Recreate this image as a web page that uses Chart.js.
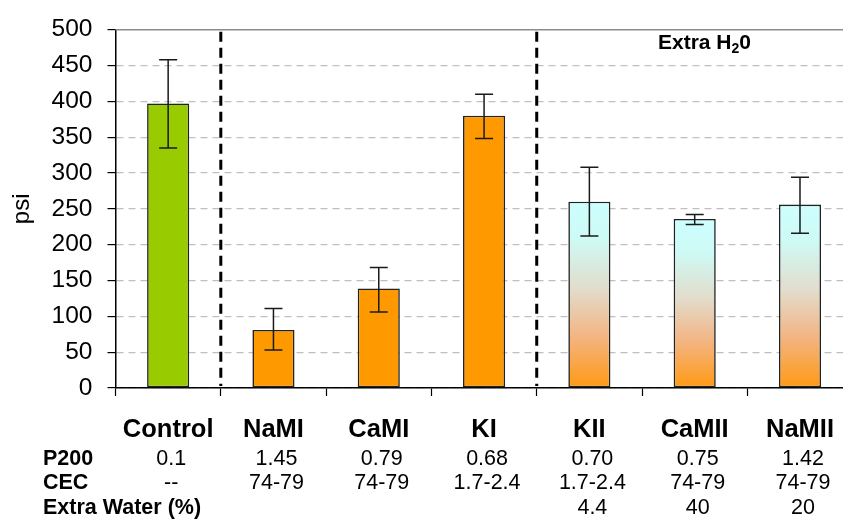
<!DOCTYPE html>
<html>
<head>
<meta charset="utf-8">
<script src="https://cdn.jsdelivr.net/npm/chart.js@4/dist/chart.umd.min.js"></script>
<style>
  html, body { margin: 0; padding: 0; background: #fff; overflow: hidden; }
  #wrap { width: 843px; height: 520px; overflow: hidden; }
</style>
</head>
<body>
<div id="wrap"><canvas id="chart" width="853" height="520"></canvas></div>
<script>
/* ────────────────────────────────────────────
   DATA
──────────────────────────────────────────── */
const categories = ['Control', 'NaMI', 'CaMI', 'KI', 'KII', 'CaMII', 'NaMII'];
const psiValues  = [397, 81, 139, 380, 260, 236, 256];
const errHigh    = [458, 111, 168, 410, 308, 242, 294];
const errLow     = [335, 53, 106, 348, 212, 228, 216];
const yTicks     = [0, 50, 100, 150, 200, 250, 300, 350, 400, 450, 500];

const rowLabels  = ['P200', 'CEC', 'Extra Water (%)'];
const p200       = ['0.1', '1.45', '0.79', '0.68', '0.70', '0.75', '1.42'];
const cec        = ['--', '74-79', '74-79', '1.7-2.4', '1.7-2.4', '74-79', '74-79'];
const extraWater = ['', '', '', '', '4.4', '40', '20'];

const dividers   = [0.5, 3.5];   // between Control|NaMI and KI|KII

const FONT = 'Arial, "Liberation Sans", sans-serif';

/* ────────────────────────────────────────────
   FILLS
──────────────────────────────────────────── */
function barFill(ctx) {
  const i = ctx.dataIndex;
  if (i === 0) return '#99CC00';
  if (i < 4) return '#FF9900';
  const chart = ctx.chart;
  if (!chart.chartArea || !chart.scales.y) return '#CCFFFF';
  const y = chart.scales.y;
  const top = y.getPixelForValue(psiValues[i]);
  const bottom = y.getPixelForValue(0);
  const g = chart.ctx.createLinearGradient(0, top, 0, bottom);
  g.addColorStop(0, '#CCFFFF');
  g.addColorStop(0.2, '#CEFAF5');
  g.addColorStop(0.47, '#E2DCCB');
  g.addColorStop(0.72, '#F3B584');
  g.addColorStop(1, '#FF9912');
  return g;
}

/* ────────────────────────────────────────────
   OVERLAYS: error bars, dividers, table
──────────────────────────────────────────── */
const overlay = {
  id: 'overlay',
  afterDatasetsDraw(chart) {
    const { ctx, chartArea } = chart;
    const x = chart.scales.x, y = chart.scales.y;
    ctx.save();

    // solid top line at 500
    ctx.strokeStyle = '#8C8C8C';
    ctx.lineWidth = 1.5;
    ctx.beginPath();
    ctx.moveTo(chartArea.left, y.getPixelForValue(500));
    ctx.lineTo(chartArea.right, y.getPixelForValue(500));
    ctx.stroke();

    // error bars
    ctx.strokeStyle = '#1a1a1a';
    ctx.lineWidth = 1.5;
    psiValues.forEach((v, i) => {
      const cx = x.getPixelForValue(i);
      const hi = y.getPixelForValue(errHigh[i]);
      const lo = y.getPixelForValue(errLow[i]);
      ctx.beginPath();
      ctx.moveTo(cx, hi); ctx.lineTo(cx, lo);
      ctx.moveTo(cx - 9, hi); ctx.lineTo(cx + 9, hi);
      ctx.moveTo(cx - 9, lo); ctx.lineTo(cx + 9, lo);
      ctx.stroke();
    });

    // dashed dividers
    ctx.strokeStyle = '#000';
    ctx.lineWidth = 3;
    ctx.setLineDash([10, 6]);
    dividers.forEach(d => {
      const px = (x.getPixelForValue(Math.floor(d)) + x.getPixelForValue(Math.ceil(d))) / 2;
      ctx.beginPath();
      ctx.moveTo(px, chartArea.top + 2);
      ctx.lineTo(px, chartArea.bottom - 2);
      ctx.stroke();
    });
    ctx.setLineDash([]);

    // "Extra H2O" label
    ctx.fillStyle = '#000';
    ctx.textBaseline = 'alphabetic';
    ctx.textAlign = 'left';
    let tx = 658, ty = 49;
    ctx.font = 'bold 21px ' + FONT;
    ctx.fillText('Extra H', tx, ty);
    tx += ctx.measureText('Extra H').width;
    ctx.font = 'bold 14px ' + FONT;
    ctx.fillText('2', tx, ty + 4);
    tx += ctx.measureText('2').width;
    ctx.font = 'bold 21px ' + FONT;
    ctx.fillText('0', tx, ty);

    // table rows under the axis
    const rows = [p200, cec, extraWater];
    const rowY = [459, 483, 508];
    ctx.textBaseline = 'middle';
    rows.forEach((row, r) => {
      ctx.textAlign = 'left';
      ctx.font = 'bold 21.5px ' + FONT;
      ctx.fillText(rowLabels[r], 43, rowY[r]);
      ctx.textAlign = 'center';
      ctx.font = '21.5px ' + FONT;
      row.forEach((txt, i) => {
        if (txt) ctx.fillText(txt, x.getPixelForValue(i) + 3, rowY[r]);
      });
    });

    ctx.restore();
  }
};

/* ────────────────────────────────────────────
   CHART
──────────────────────────────────────────── */
new Chart(document.getElementById('chart').getContext('2d'), {
  type: 'bar',
  data: {
    labels: categories,
    datasets: [{
      data: psiValues,
      backgroundColor: barFill,
      borderColor: '#222',
      borderWidth: 1.6,
      borderSkipped: false,
      barPercentage: 0.4,
      categoryPercentage: 1
    }]
  },
  options: {
    responsive: false,
    animation: false,
    layout: { padding: { top: 20, left: 0, right: 0, bottom: 0 } },
    plugins: { legend: { display: false }, tooltip: { enabled: false } },
    scales: {
      x: {
        afterFit: s => { s.height = 132; },
        grid: { drawOnChartArea: false, drawTicks: true, tickLength: 8, tickColor: '#000', tickWidth: 1.2 },
        border: { color: '#000', width: 1.5 },
        ticks: { color: '#000', padding: 19, font: { family: FONT, size: 25.5, weight: 'bold' } }
      },
      y: {
        min: 0, max: 500,
        afterFit: s => { s.width = 115.5; },
        afterBuildTicks: s => { s.ticks = yTicks.map(v => ({ value: v })); },
        grid: {
          color: c => (c.tick && c.tick.value === 500 ? 'rgba(0,0,0,0)' : '#C0C0C0'),
          lineWidth: 1.2,
          tickLength: 8, tickColor: '#000', tickWidth: 1.2
        },
        border: { color: '#000', width: 1.5, dash: [7, 5] },
        ticks: { color: '#000', padding: 15, font: { family: FONT, size: 24.5 } },
        title: { display: true, text: 'psi', color: '#000', padding: { top: 8, bottom: 0 }, font: { family: FONT, size: 24 } }
      }
    }
  },
  plugins: [overlay]
});
</script>
</body>
</html>
